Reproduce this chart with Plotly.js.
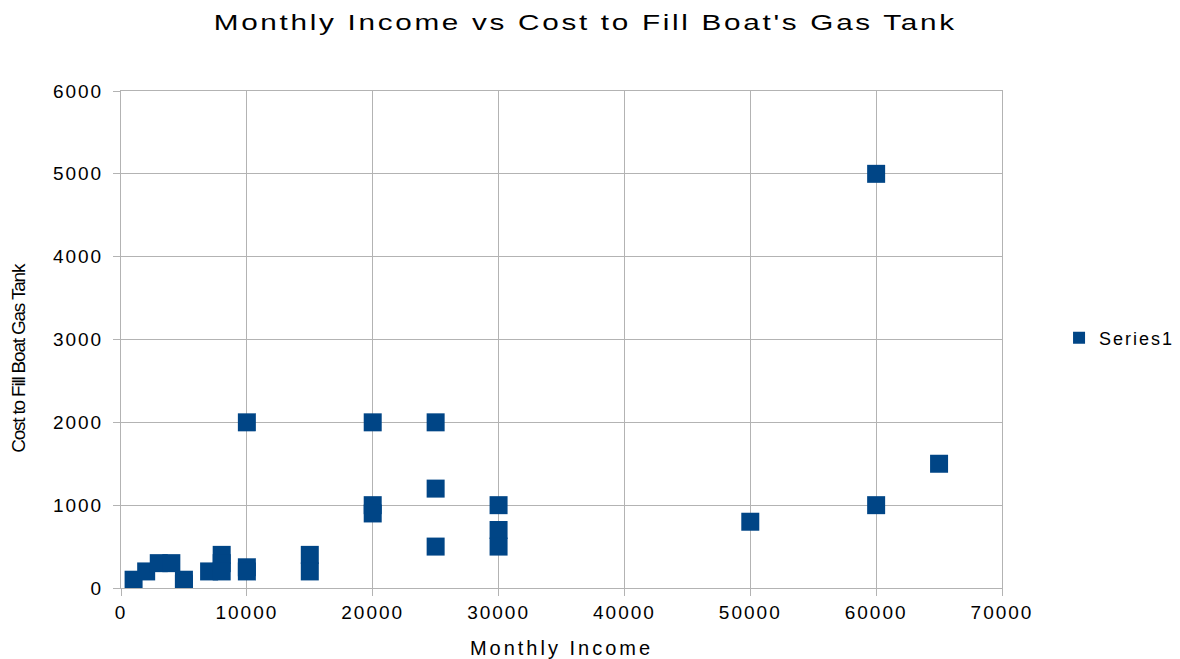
<!DOCTYPE html>
<html>
<head>
<meta charset="utf-8">
<script src="https://cdn.plot.ly/plotly-3.0.1.min.js"></script>
<style>
  html, body { margin: 0; padding: 0; background: #fff; }
  #chart { width: 1180px; height: 659px; }
  .gtitle { letter-spacing: 2px; transform-box: fill-box; transform-origin: 50% 50%; transform: scaleX(1.35); }
  .xtick text, .ytick text { letter-spacing: 2px; }
  .xtitle { letter-spacing: 3px; }
  .legendtext { letter-spacing: 2px; }
  .annotation-text { letter-spacing: -1.2px; }
</style>
</head>
<body>
<div id="chart"></div>
<script>
// Monthly income (x) and cost to fill boat gas tank (y)
const monthlyIncome = [1000, 2000, 3000, 4000, 5000, 5000, 7000, 8000, 8000, 8000, 10000, 10000, 10000,
  15000, 15000, 20000, 20000, 20000, 25000, 25000, 25000, 30000, 30000, 30000, 50000, 60000, 60000, 65000];
const costToFill = [100, 200, 300, 300, 100, 50, 200, 400, 300, 200, 250, 200, 2000,
  400, 200, 2000, 1000, 900, 2000, 1200, 500, 1000, 700, 500, 800, 5000, 1000, 1500];
const seriesName = "Series1";
const xTicks = [0, 10000, 20000, 30000, 40000, 50000, 60000, 70000];
const yTicks = [0, 1000, 2000, 3000, 4000, 5000, 6000];
const chartTitle = "Monthly Income vs Cost to Fill Boat's Gas Tank";
const xTitle = "Monthly Income";
const yTitle = "Cost to Fill Boat Gas Tank";

const font = "Liberation Sans, Arial, sans-serif";
const narrow = "Liberation Sans Narrow, Arial Narrow, Liberation Sans, sans-serif";
const gridColor = "#b3b3b3";

const trace = {
  x: monthlyIncome,
  y: costToFill,
  type: "scatter",
  mode: "markers",
  name: seriesName,
  marker: { symbol: "square", size: 18, color: "#004586", line: { width: 0 } },
  showlegend: true
};

const layout = {
  width: 1180,
  height: 659,
  paper_bgcolor: "#ffffff",
  plot_bgcolor: "#ffffff",
  margin: { l: 121, r: 178, t: 91, b: 71 },
  font: { family: font, color: "#000000", size: 14 },
  title: {
    text: chartTitle,
    font: { family: font, size: 22, color: "#000000" },
    x: 0.496, xanchor: "center", y: 0.966, yanchor: "middle"
  },
  xaxis: {
    range: [0, 70000],
    tickvals: xTicks,
    ticktext: xTicks.map(String),
    showgrid: true, gridcolor: gridColor, gridwidth: 1,
    showline: true, linecolor: gridColor, linewidth: 1, mirror: true,
    ticks: "outside", ticklen: 7, tickcolor: gridColor,
    zeroline: false,
    tickfont: { family: font, size: 19, color: "#000000" },
    title: { text: xTitle, font: { family: font, size: 20, color: "#000000" }, standoff: 22 }
  },
  yaxis: {
    range: [0, 6000],
    tickvals: yTicks,
    ticktext: yTicks.map(String),
    showgrid: true, gridcolor: gridColor, gridwidth: 1,
    showline: true, linecolor: gridColor, linewidth: 1, mirror: true,
    ticks: "outside", ticklen: 7, tickcolor: gridColor,
    zeroline: false,
    ticklabelstandoff: 6,
    tickfont: { family: font, size: 19, color: "#000000" }
  },
  annotations: [{
    text: yTitle, textangle: -90,
    xref: "paper", yref: "paper", x: -0.1158, y: 0.463,
    xanchor: "center", yanchor: "middle", showarrow: false,
    font: { family: narrow, size: 19, color: "#000000" }
  }],
  legend: {
    xref: "container", yref: "container",
    x: 0.8975, xanchor: "left", y: 0.487, yanchor: "middle",
    font: { family: font, size: 18, color: "#000000" },
    bgcolor: "rgba(0,0,0,0)", borderwidth: 0,
    itemsizing: "constant"
  },
  showlegend: true
};

Plotly.newPlot("chart", [trace], layout, { displayModeBar: false, staticPlot: true });
</script>
</body>
</html>
